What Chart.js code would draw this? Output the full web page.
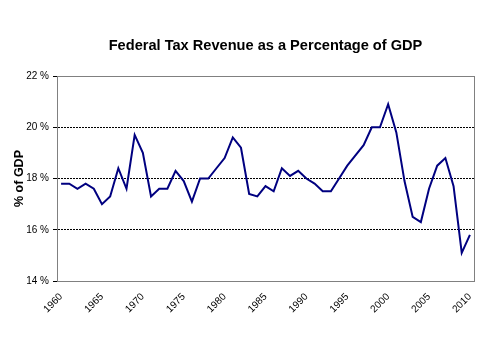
<!DOCTYPE html>
<html>
<head>
<meta charset="utf-8">
<script src="https://cdn.jsdelivr.net/npm/chart.js@4/dist/chart.umd.min.js"></script>
<style>
  html, body { margin: 0; padding: 0; background: #fff; }
  #wrap { width: 490px; height: 341px; }
</style>
</head>
<body>
<div id="wrap"><canvas id="myChart"></canvas></div>
<script>
var years = [1960, 1961, 1962, 1963, 1964, 1965, 1966, 1967, 1968, 1969,
             1970, 1971, 1972, 1973, 1974, 1975, 1976, 1977, 1978, 1979,
             1980, 1981, 1982, 1983, 1984, 1985, 1986, 1987, 1988, 1989,
             1990, 1991, 1992, 1993, 1994, 1995, 1996, 1997, 1998, 1999,
             2000, 2001, 2002, 2003, 2004, 2005, 2006, 2007, 2008, 2009, 2010];

var revenue = [17.8, 17.8, 17.6, 17.8, 17.6, 17.0, 17.3, 18.4, 17.6, 19.7,
               19.0, 17.3, 17.6, 17.6, 18.3, 17.9, 17.1, 18.0, 18.0, 18.4,
               18.8, 19.6, 19.2, 17.4, 17.3, 17.7, 17.5, 18.4, 18.1, 18.3,
               18.0, 17.8, 17.5, 17.5, 18.0, 18.5, 18.9, 19.3, 20.0, 20.0,
               20.9, 19.8, 17.9, 16.5, 16.3, 17.6, 18.5, 18.8, 17.7, 15.1, 15.8];

var yTicks = [14, 16, 18, 20, 22];

var chartTitle = 'Federal Tax Revenue as a Percentage of GDP';

var FONT = "'Liberation Sans', Arial, sans-serif";

// grey frame around the plot area, title centred over the plot area
var framePlugin = {
    id: 'frame',
    beforeDatasetsDraw: function (chart) {
        var a = chart.chartArea, c = chart.ctx;
        c.save();
        c.strokeStyle = '#808080';
        c.lineWidth = 1;
        c.strokeRect(a.left + 0.5, a.top + 0.5, a.right - a.left, a.bottom - a.top);
        c.restore();
    },
    afterDraw: function (chart) {
        var a = chart.chartArea, c = chart.ctx;
        c.save();
        c.fillStyle = '#000';
        c.font = 'bold 14.6px ' + FONT;
        c.textAlign = 'center';
        c.textBaseline = 'middle';
        c.fillText(chartTitle, (a.left + a.right) / 2, 46);
        c.restore();
    }
};

var ctx = document.getElementById('myChart').getContext('2d');
var myChart = new Chart(ctx, {
    type: 'line',
    data: {
        labels: years,
        datasets: [{
            label: '% of GDP',
            data: revenue,
            borderColor: '#000080',
            backgroundColor: '#000080',
            borderWidth: 2,
            pointRadius: 0,
            tension: 0,
            fill: false
        }]
    },
    options: {
        responsive: true,
        maintainAspectRatio: false,
        animation: false,
        layout: { padding: { left: 0, right: 16, top: 76, bottom: 0 } },
        plugins: {
            legend: { display: false },
            tooltip: { enabled: false },
            title: { display: false }
        },
        scales: {
            x: {
                offset: true,
                afterFit: function (s) { s.height = 60; },
                grid: { display: false },
                border: { display: true, color: '#808080', width: 1 },
                ticks: {
                    autoSkip: false,
                    minRotation: 45,
                    maxRotation: 45,
                    padding: 2,
                    color: '#000',
                    font: { family: FONT, size: 10 },
                    callback: function (val, i) {
                        return years[i] % 5 === 0 ? String(years[i]) : '';
                    }
                }
            },
            y: {
                min: yTicks[0],
                max: yTicks[yTicks.length - 1],
                afterFit: function (s) { s.width = 57; },
                afterBuildTicks: function (s) {
                    s.ticks = yTicks.map(function (v) { return { value: v }; });
                },
                grid: {
                    color: function (c) {
                        if (!c.tick) return '#000';
                        return (c.tick.value === 14 || c.tick.value === 22) ? 'rgba(0,0,0,0)' : '#000';
                    },
                    tickColor: '#000',
                    tickLength: 4,
                    tickBorderDash: [],
                    lineWidth: 1
                },
                border: { display: true, color: '#000', width: 1, dash: [2, 1] },
                title: {
                    display: true,
                    text: '% of GDP',
                    color: '#000',
                    font: { family: FONT, size: 12.5, weight: 'bold' },
                    padding: { top: 12, bottom: 0 }
                },
                ticks: {
                    padding: 4,
                    color: '#000',
                    font: { family: FONT, size: 10 },
                    callback: function (v) { return v + ' %'; }
                }
            }
        }
    },
    plugins: [framePlugin]
});
</script>
</body>
</html>
